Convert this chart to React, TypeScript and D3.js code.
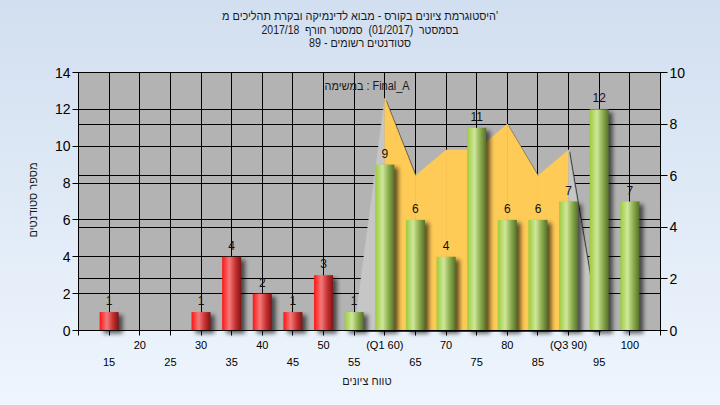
import React from 'react';
import * as d3 from 'd3';

const categories = [15, 20, 25, 30, 35, 40, 45, 50, 55, 60, 65, 70, 75, 80, 85, 90, 95, 100];
const counts = [1, 0, 0, 1, 4, 2, 1, 3, 1, 9, 6, 4, 11, 6, 6, 7, 12, 7];
const tickLabels = ['15', '20', '25', '30', '35', '40', '45', '50', '55', '(Q1 60)', '65', '70', '75', '80', '85', '(Q3 90)', '95', '100'];
const areaCategories = [55, 60, 65, 70, 75, 80, 85, 90, 95];
const areaValues = [0, 9, 6, 7, 7, 8, 6, 7, 0];
const leftTicks = [0, 2, 4, 6, 8, 10, 12, 14];
const rightTicks = [0, 2, 4, 6, 8, 10];
const titleLines = [
  "היסטוגרמת ציונים בקורס - מבוא לדינמיקה ובקרת תהליכים מ'",
  'בסמסטר  (01/2017)  סמסטר חורף  2017/18',
  'סטודנטים רשומים - 89',
];
const titleWidths = [276, 197, 102];
const seriesLabel = 'במשימה : Final_A';
const yTitle = 'מספר סטודנטים';
const xTitle = 'טווח ציונים';
const passGrade = 55;
const q1 = 60;
const q3 = 90;

const W = 720;
const H = 405;
const PL = 78.5;
const PR = 660.5;
const PT = 72.5;
const PB = 330.5;
const FONT = "'Liberation Sans', Arial, 'DejaVu Sans', sans-serif";

export default function App() {
  const x = d3.scaleLinear().domain([0, categories.length + 1]).range([PL, PR]);
  const xc = (c: number) => x(categories.indexOf(c) + 1);
  const yL = d3.scaleLinear().domain([0, 14]).range([PB, PT]);
  const yR = d3.scaleLinear().domain([0, 10]).range([PB, PT]);
  const step = x(1) - x(0);
  const bw = step * 0.62;

  const areaGen = d3
    .area<number>()
    .x((_, i) => xc(areaCategories[i]))
    .y0(yR(0))
    .y1((v) => yR(v));

  const segs = areaValues.slice(0, -1).map((v, i) => {
    const pts = [areaValues[i], areaValues[i + 1]];
    const gen = d3
      .area<number>()
      .x((_, j) => xc(areaCategories[i + j]))
      .y0(yR(0))
      .y1((vv) => yR(vv));
    const c = areaCategories[i];
    const inIQR = c >= q1 && c < q3;
    return { d: gen(pts) || '', fill: inIQR ? '#ffcb57' : '#c6c6c6' };
  });

  const crisp = (v: number) => Math.round(v - 0.5) + 0.5;

  return (
    <svg width={W} height={H} style={{ position: 'absolute', left: 0, top: 0 }} fontFamily={FONT}>
      <defs>
        <linearGradient id="bg" x1="0" y1="0" x2="0" y2="1">
          <stop offset="0" stopColor="#d2dff0" />
          <stop offset="1" stopColor="#eef5fd" />
        </linearGradient>
        <linearGradient id="red" x1="0" y1="0" x2="1" y2="0">
          <stop offset="0" stopColor="#ff1414" />
          <stop offset="0.38" stopColor="#f27a7a" />
          <stop offset="0.7" stopColor="#c83030" />
          <stop offset="1" stopColor="#7c1414" />
        </linearGradient>
        <linearGradient id="green" x1="0" y1="0" x2="1" y2="0">
          <stop offset="0" stopColor="#9ccc3c" />
          <stop offset="0.38" stopColor="#cfe79a" />
          <stop offset="0.7" stopColor="#8aab4c" />
          <stop offset="1" stopColor="#566f2c" />
        </linearGradient>
        <filter id="blur" x="-50%" y="-20%" width="200%" height="140%">
          <feGaussianBlur stdDeviation="2" />
        </filter>
      </defs>
      <rect x={0} y={0} width={W} height={H} fill="url(#bg)" />
      <rect x={PL} y={PT} width={PR - PL} height={PB - PT} fill="#b3b3b3" />

      {/* grid lines */}
      {leftTicks.map((t) => (
        <line key={'gl' + t} x1={PL} x2={PR} y1={crisp(yL(t))} y2={crisp(yL(t))} stroke="#000" />
      ))}
      {rightTicks.map((t) => (
        <line key={'gr' + t} x1={PL} x2={PR} y1={crisp(yR(t))} y2={crisp(yR(t))} stroke="#000" />
      ))}
      {categories.map((c) => (
        <line key={'gv' + c} x1={crisp(xc(c))} x2={crisp(xc(c))} y1={PT} y2={PB} stroke="#000" />
      ))}

      {/* area series */}
      <path d={areaGen(areaValues) || ''} fill="#3c3c3c" transform="translate(1.6,1.6)" />
      {segs.map((s, i) => (
        <path key={'seg' + i} d={s.d} fill={s.fill} stroke={s.fill} strokeWidth={0.5} />
      ))}

      {/* bar shadows */}
      {categories.map((c, i) =>
        counts[i] > 0 ? (
          <rect
            key={'sh' + c}
            x={xc(c) - bw / 2 + 4}
            y={yL(counts[i]) + 3}
            width={bw}
            height={yL(0) - yL(counts[i])}
            fill="#000"
            opacity={0.6}
            filter="url(#blur)"
          />
        ) : null
      )}
      {/* bars */}
      {categories.map((c, i) =>
        counts[i] > 0 ? (
          <rect
            key={'b' + c}
            x={xc(c) - bw / 2}
            y={yL(counts[i])}
            width={bw}
            height={yL(0) - yL(counts[i])}
            fill={c < passGrade ? 'url(#red)' : 'url(#green)'}
          />
        ) : null
      )}
      {/* value labels */}
      {categories.map((c, i) =>
        counts[i] > 0 ? (
          <text key={'v' + c} x={xc(c)} y={yL(counts[i]) - 7} textAnchor="middle" fontSize={12} fill="#111">
            {counts[i]}
          </text>
        ) : null
      )}

      {/* axes */}
      <line x1={PL} x2={PR} y1={PB} y2={PB} stroke="#000" />
      <line x1={PL} x2={PL} y1={PT} y2={PB} stroke="#000" />
      <line x1={PR} x2={PR} y1={PT} y2={PB} stroke="#000" />
      <line x1={PL} x2={PR} y1={PT} y2={PT} stroke="#000" />
      {leftTicks.map((t) => (
        <g key={'lt' + t}>
          <line x1={PL - 6} x2={PL} y1={crisp(yL(t))} y2={crisp(yL(t))} stroke="#000" />
          <text x={PL - 8} y={yL(t) + 5} textAnchor="end" fontSize={14} fill="#000">
            {t}
          </text>
        </g>
      ))}
      {rightTicks.map((t) => (
        <g key={'rt' + t}>
          <line x1={PR} x2={PR + 7} y1={crisp(yR(t))} y2={crisp(yR(t))} stroke="#000" />
          <text x={PR + 9} y={yR(t) + 5} textAnchor="start" fontSize={14} fill="#000">
            {t}
          </text>
        </g>
      ))}
      <line x1={PL} x2={PL} y1={PB} y2={PB + 5} stroke="#000" />
      <line x1={PR} x2={PR} y1={PB} y2={PB + 5} stroke="#000" />
      {categories.map((c, i) => (
        <g key={'xt' + c}>
          <line x1={crisp(xc(c))} x2={crisp(xc(c))} y1={PB} y2={PB + 5} stroke="#000" />
          <text x={xc(c)} y={i % 2 === 0 ? 366 : 349} textAnchor="middle" fontSize={11} fill="#000">
            {tickLabels[i]}
          </text>
        </g>
      ))}

      {/* titles */}
      {titleLines.map((t, i) => (
        <text
          key={'t' + i}
          x={360}
          y={20 + i * 13.5}
          textAnchor="middle"
          fontSize={12}
          fill="#1a1a1a"
          textLength={titleWidths[i]}
          lengthAdjust="spacingAndGlyphs"
          style={{ whiteSpace: 'pre' }}
        >
          {t}
        </text>
      ))}
      <text x={367} y={90} textAnchor="middle" fontSize={12} fill="#1a1a1a" textLength={85} lengthAdjust="spacingAndGlyphs">
        {seriesLabel}
      </text>
      <text x={367} y={385} textAnchor="middle" fontSize={11} fill="#1a1a1a">
        {xTitle}
      </text>
      <text transform="translate(37,200) rotate(-90)" textAnchor="middle" fontSize={11} fill="#1a1a1a">
        {yTitle}
      </text>
    </svg>
  );
}
